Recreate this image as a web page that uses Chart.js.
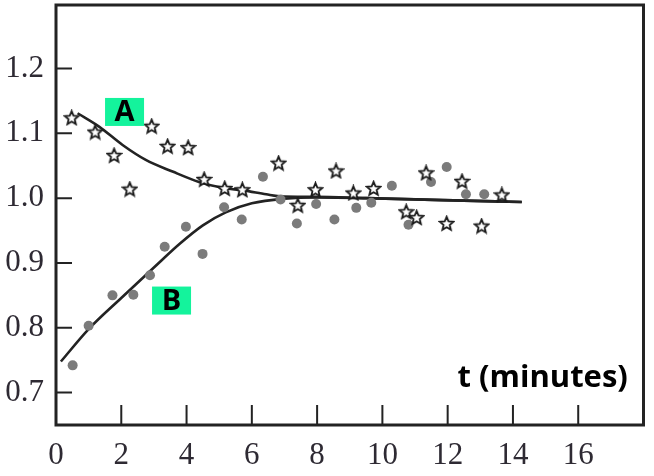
<!DOCTYPE html>
<html>
<head>
<meta charset="utf-8">
<script src="https://cdn.jsdelivr.net/npm/chart.js@4/dist/chart.umd.min.js"></script>
<style>
  html, body { margin: 0; padding: 0; background: #fff; }
  #wrap { width: 654px; height: 476px; }
</style>
</head>
<body>
<div id="wrap"><canvas id="chart" width="654" height="476"></canvas></div>
<script>
// --- data ---
const xTicks = [0, 2, 4, 6, 8, 10, 12, 14, 16];
const yTicks = [0.7, 0.8, 0.9, 1.0, 1.1, 1.2];

// A: open stars
const starT = [0.48, 1.20, 1.78, 2.26, 2.93, 3.42, 4.05, 4.54, 5.17, 5.71, 6.82, 7.41, 7.95, 8.58, 9.11, 9.73, 10.73, 11.05, 11.34, 11.97, 12.44, 13.04, 13.66];
const starY = [1.124, 1.102, 1.066, 1.014, 1.111, 1.080, 1.078, 1.029, 1.015, 1.013, 1.054, 0.989, 1.013, 1.042, 1.008, 1.015, 0.979, 0.970, 1.039, 0.961, 1.026, 0.957, 1.005];

// B: grey dots
const dotT = [0.51, 1.00, 1.73, 2.37, 2.88, 3.33, 3.98, 4.49, 5.15, 5.69, 6.34, 6.88, 7.38, 7.97, 8.53, 9.20, 9.66, 10.29, 10.80, 11.49, 11.97, 12.56, 13.12];
const dotY = [0.742, 0.803, 0.850, 0.851, 0.881, 0.925, 0.956, 0.914, 0.986, 0.967, 1.033, 0.998, 0.961, 0.991, 0.967, 0.985, 0.993, 1.019, 0.959, 1.025, 1.048, 1.006, 1.006];

// fitted curves
const curveAT = [0.66, 1.33, 2.04, 2.75, 3.57, 4.38, 5.10, 5.73, 6.44, 6.85, 7.97, 9.50, 11.85, 14.27];
const curveAY = [1.131, 1.110, 1.082, 1.059, 1.041, 1.025, 1.016, 1.012, 1.006, 1.003, 1.002, 1.000, 0.997, 0.994];
const curveBT = [0.15, 1.00, 2.00, 3.00, 3.80, 4.50, 5.20, 6.00, 7.00, 8.00, 9.50, 11.85, 14.27];
const curveBY = [0.748, 0.798, 0.846, 0.893, 0.930, 0.958, 0.978, 0.992, 0.999, 1.001, 1.000, 0.997, 0.994];

const labelA = { t: 2.10, y: 1.133, text: 'A' };
const labelB = { t: 3.54, y: 0.842, text: 'B' };
const axisNote = { t: 17.52, y: 0.722, text: 't (minutes)' };

const zip = (xs, ys) => xs.map((x, i) => ({ x: x, y: ys[i] }));

// open star marker
const starImg = document.createElement('canvas');
starImg.width = 17;
starImg.height = 17;
(() => {
    const c = starImg.getContext('2d');
    const cx = 8.5, cy = 9, ro = 7.2, ri = 3.2;
    c.beginPath();
    for (let i = 0; i < 10; i++) {
        const r = i % 2 === 0 ? ro : ri;
        const a = -Math.PI / 2 + i * Math.PI / 5;
        const px = cx + r * Math.cos(a), py = cy + r * Math.sin(a);
        if (i === 0) c.moveTo(px, py); else c.lineTo(px, py);
    }
    c.closePath();
    c.fillStyle = '#fff';
    c.fill();
    c.lineWidth = 1.8;
    c.strokeStyle = '#1a1a1a';
    c.stroke();
})();

const INK = '#232323';

// frame, inward ticks and text labels
const framePlugin = {
    id: 'frame',
    afterDraw(chart) {
        const ctx = chart.ctx;
        const a = chart.chartArea;
        const xs = chart.scales.x, ys = chart.scales.y;
        ctx.save();
        ctx.strokeStyle = INK;
        ctx.lineWidth = 2;
        ctx.beginPath();
        xTicks.forEach(v => {
            const px = xs.getPixelForValue(v);
            ctx.moveTo(px, a.bottom);
            ctx.lineTo(px, a.bottom - 20);
        });
        yTicks.forEach(v => {
            const py = ys.getPixelForValue(v);
            ctx.moveTo(a.left, py);
            ctx.lineTo(a.left + 16, py);
        });
        ctx.stroke();

        ctx.lineWidth = 3;
        ctx.strokeRect(a.left, a.top, a.right - a.left, a.bottom - a.top);

        // green tags
        [labelA, labelB].forEach(l => {
            const px = xs.getPixelForValue(l.t), py = ys.getPixelForValue(l.y);
            ctx.fillStyle = '#14f39c';
            ctx.fillRect(px - 19.5, py - 14, 39, 28);
            ctx.fillStyle = '#000';
            ctx.font = 'bold 29px "Open Sans"';
            ctx.textAlign = 'center';
            ctx.textBaseline = 'middle';
            ctx.fillText(l.text, px, py + 1);
        });

        ctx.fillStyle = '#000';
        ctx.font = 'bold 31px "Open Sans"';
        ctx.textAlign = 'right';
        ctx.textBaseline = 'middle';
        ctx.fillText(axisNote.text, xs.getPixelForValue(axisNote.t), ys.getPixelForValue(axisNote.y));
        ctx.restore();
    }
};

const tickFont = { family: '"Liberation Serif", "DejaVu Serif", serif', size: 31 };

new Chart(document.getElementById('chart'), {
    type: 'scatter',
    data: {
        datasets: [
            {
                label: 'A',
                data: zip(starT, starY),
                pointStyle: starImg,
                pointRadius: 1,
                pointHoverRadius: 0,
                borderWidth: 0,
                order: 0
            },
            {
                label: 'B',
                data: zip(dotT, dotY),
                backgroundColor: '#7b7b7b',
                borderWidth: 0,
                pointRadius: 5,
                pointHoverRadius: 0,
                order: 1
            },
            {
                label: 'fit A',
                data: zip(curveAT, curveAY),
                showLine: true,
                borderColor: INK,
                borderWidth: 2.6,
                pointRadius: 0,
                pointHoverRadius: 0,
                cubicInterpolationMode: 'monotone',
                order: 2
            },
            {
                label: 'fit B',
                data: zip(curveBT, curveBY),
                showLine: true,
                borderColor: INK,
                borderWidth: 2.6,
                pointRadius: 0,
                pointHoverRadius: 0,
                cubicInterpolationMode: 'monotone',
                order: 2
            }
        ]
    },
    options: {
        responsive: false,
        animation: false,
        layout: { padding: { top: 3.5, right: 10.5, left: 0, bottom: 0 } },
        plugins: {
            legend: { display: false },
            tooltip: { enabled: false }
        },
        scales: {
            x: {
                type: 'linear',
                min: 0,
                max: 18,
                afterBuildTicks: s => { s.ticks = xTicks.map(v => ({ value: v })); },
                afterFit: s => { s.height = 51; s.paddingLeft = 0; s.paddingRight = 0; },
                grid: { display: false, drawTicks: false },
                border: { display: false },
                ticks: {
                    font: tickFont,
                    color: '#2e2a33',
                    padding: 12,
                    maxRotation: 0,
                    callback: v => String(v)
                }
            },
            y: {
                type: 'linear',
                min: 0.65,
                max: 1.298,
                afterBuildTicks: s => { s.ticks = yTicks.map(v => ({ value: v })); },
                afterFit: s => { s.width = 56; s.paddingTop = 0; s.paddingBottom = 0; },
                grid: { display: false, drawTicks: false },
                border: { display: false },
                ticks: {
                    font: tickFont,
                    color: '#2e2a33',
                    padding: 12,
                    callback: v => Number(v).toFixed(1)
                }
            }
        }
    },
    plugins: [framePlugin]
});
</script>
</body>
</html>
